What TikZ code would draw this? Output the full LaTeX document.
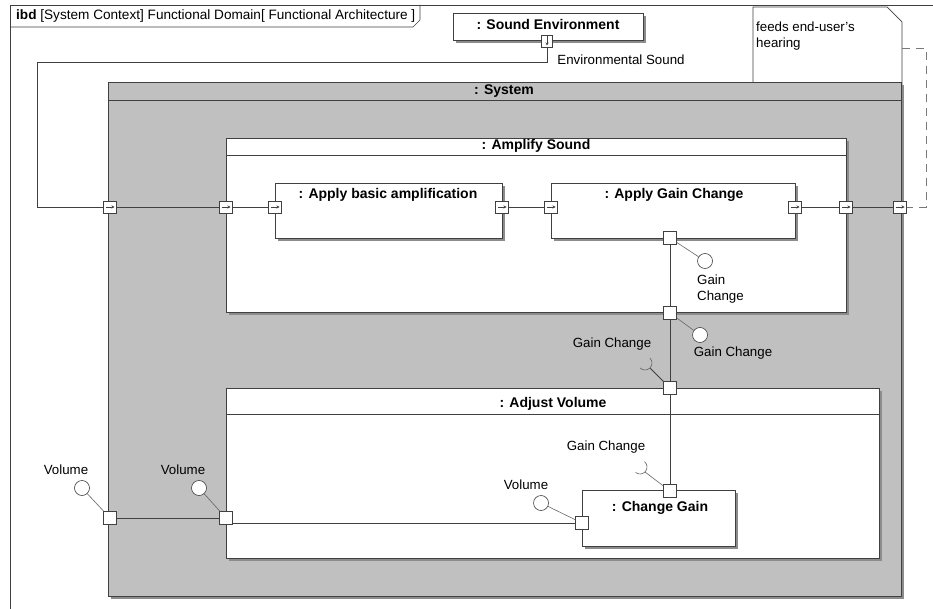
\documentclass[tikz,border=0pt]{standalone}
\usepackage{fontspec}
\setmainfont{Liberation Sans}
\usetikzlibrary{arrows.meta,shadows}
\definecolor{linec}{HTML}{404040}
\definecolor{sysgray}{HTML}{C0C0C0}
\definecolor{shadowc}{HTML}{8C8C8C}
\tikzset{
  txt/.style={font=\fontsize{13.3}{16}\selectfont, inner sep=0, text=black},
  btxt/.style={font=\fontsize{14}{16}\selectfont\bfseries, inner sep=0, text=black},
  box/.style={draw=linec, fill=white, line width=0.7pt, inner sep=0, anchor=north west,
    drop shadow={shadow xshift=2.5pt, shadow yshift=-2.5pt, fill=shadowc, opacity=1}},
  sysbox/.style={box, fill=sysgray},
  hdr/.style={draw=linec, line width=0.7pt},
  conn/.style={draw=linec, line width=0.6pt},
  flowport/.style={draw=linec, fill=white, minimum width=13pt, minimum height=12pt, inner sep=0, line width=0.6pt},
  sqport/.style={draw=linec, fill=white, minimum size=13pt, inner sep=0, line width=0.6pt},
  lolly/.style={circle, draw=linec, fill=white, minimum size=15pt, inner sep=0, line width=0.6pt},
  ball/.style={draw=linec!80, line width=0.6pt},
  portarrow/.style={draw=linec, line width=0.5pt, -{Stealth[length=3pt,width=3pt]}},
  notebox/.style={draw=linec, fill=white, line width=0.7pt},
}
\begin{document}
\begin{tikzpicture}[x=1pt,y=-1pt]
\useasboundingbox (0,0) rectangle (933,609);
\fill[white] (0,0) rectangle (933,609);
\clip (0,0) rectangle (933,609);

% frame
\draw[linec, line width=0.7pt] (10,620) -- (10,5) -- (940,5);
\draw[linec, line width=0.7pt] (10,27) -- (413,27) -- (420,20) -- (420,5);
\node[txt, anchor=west, font=\fontsize{13.6}{16}\selectfont] (title) at (16,16) {\textbf{ibd} [System Context] Functional Domain[ Functional Architecture ]};

% Sound environment
\node[box, minimum width=190pt, minimum height=27pt] (env) at (453,13) {};
\node[btxt] (envT) at (548,25) {: Sound Environment};

% Note
\coordinate (n1) at (753,7);
\coordinate (n2) at (887,7);
\coordinate (n3) at (902,22);
\coordinate (n4) at (902,97);
\coordinate (n5) at (753,97);
\draw[notebox] (n1) -- (n2) -- (n3) -- (n4) -- (n5) -- cycle;
\node[txt, anchor=north west, align=left] (noteT) at (756,22) {feeds end-user's\\hearing};

% System
\node[sysbox, minimum width=793pt, minimum height=514pt] (sys) at (108,82) {};
\draw[hdr] ([yshift=-18pt]sys.north west) -- ([yshift=-18pt]sys.north east);
\node[btxt] (sysT) at (504,91) {: System};

% Amplify sound
\node[box, minimum width=620pt, minimum height=174pt] (amp) at (226,138) {};
\draw[hdr] ([yshift=-17pt]amp.north west) -- ([yshift=-17pt]amp.north east);
\node[btxt] (ampT) at (536,146) {: Amplify Sound};

\node[box, minimum width=227pt, minimum height=55pt] (bas) at (275,183) {};
\node[btxt] (basT) at (388,195) {: Apply basic amplification};
\node[box, minimum width=244pt, minimum height=55pt] (gan) at (551,183) {};
\node[btxt] (ganT) at (674,195) {: Apply Gain Change};

% Adjust volume
\node[box, minimum width=653pt, minimum height=170pt] (adj) at (226,388) {};
\draw[hdr] ([yshift=-26pt]adj.north west) -- ([yshift=-26pt]adj.north east);
\node[btxt] (adjT) at (553,404) {: Adjust Volume};

\node[box, minimum width=153pt, minimum height=56pt] (cg) at (582,490) {};
\node[btxt] (cgT) at (660,508) {: Change Gain};

% flow ports
\node[flowport] (sysL) at (110,207) {};
\node[flowport] (ampL) at (226,207) {};
\node[flowport] (basL) at (275,207) {};
\node[flowport] (basR) at (502,207) {};
\node[flowport] (ganL) at (551,207) {};
\node[flowport] (ganR) at (795,207) {};
\node[flowport] (ampR) at (846,207) {};
\node[flowport] (sysR) at (900,207) {};
\foreach \p in {sysL,ampL,basL,basR,ganL,ganR,ampR,sysR}
  \draw[portarrow] ([xshift=-4.5pt]\p.center) -- ([xshift=4.5pt]\p.center);
\node[flowport, minimum width=11pt] (envP) at (547,41) {};
\draw[portarrow] ([yshift=4.5pt]envP.center) -- ([yshift=-4.5pt]envP.center);

% square ports
\node[sqport] (ganB) at (670,238) {};
\node[sqport] (ampB) at (670,313) {};
\node[sqport] (adjTp) at (670,388) {};
\node[sqport] (cgTp) at (670,491) {};
\node[sqport] (cgL) at (582,523) {};
\node[sqport] (sysB) at (110,518) {};
\node[sqport] (adjL) at (226,518) {};

% connectors
\coordinate (e1) at (547,62);
\coordinate (e2) at (37,62);
\coordinate (e3) at (37,207);
\draw[conn] (envP.south) -- (e1) -- (e2) -- (e3) -- (sysL.west);
\draw[conn] (sysL) -- (ampL);
\draw[conn] (ampL) -- (basL);
\draw[conn] (basR) -- (ganL);
\draw[conn] (ganR) -- (ampR);
\draw[conn] (ampR) -- (sysR);
\coordinate (d0) at (902,48);
\coordinate (d1) at (926,48);
\coordinate (d2) at (926,207);
\draw[conn, dashed, dash pattern=on 8pt off 6pt, draw=linec!70] (d0) -- (d1) -- (d2) -- (sysR.east);
\draw[conn] (ganB) -- (ampB);
\draw[conn] (ampB) -- (adjTp);
\draw[conn] (adjTp) -- (cgTp);
\draw[conn] (sysB) -- (adjL);
\draw[conn] ([yshift=-5pt]adjL.east) -- (cgL.west);

% provided interfaces (lollipops)
\node[lolly] (ganBc) at (705,261) {};
\node[lolly] (ampBc) at (700,335) {};
\node[lolly] (sysBc) at (82,488) {};
\node[lolly] (adjLc) at (199,488) {};
\node[lolly] (cgLc) at (541,503) {};
\draw[ball] (ganB) -- (ganBc);
\draw[ball] (ampB) -- (ampBc);
\draw[ball] (sysB) -- (sysBc);
\draw[ball] (adjL) -- (adjLc);
\draw[ball] (cgL) -- (cgLc);

% required interfaces (sockets)
\coordinate (s1c) at (645,363);
\coordinate (s1e) at (650,368);
\draw[conn, line width=0.9pt] (adjTp) -- (s1e);
\draw[ball] ([shift={(-45:7)}]s1c) arc[start angle=-45, end angle=135, radius=7];
\coordinate (s2c) at (640,467);
\coordinate (s2e) at (645,472);
\draw[ball] (cgTp) -- (s2e);
\draw[ball] ([shift={(-50:7)}]s2c) arc[start angle=-50, end angle=130, radius=7];

% labels
\node[txt] (envL) at (621,60) {Environmental Sound};
\node[txt, anchor=north west, align=left] (ganBL) at (697,275) {Gain\\Change};
\node[txt] (ampBL) at (733,353) {Gain Change};
\node[txt] (adjTL) at (612,344) {Gain Change};
\node[txt] (cgTL) at (606,447) {Gain Change};
\node[txt] (cgLL) at (526,485) {Volume};
\node[txt] (sysBL) at (66,470) {Volume};
\node[txt] (adjLL) at (183,470) {Volume};
\end{tikzpicture}
\end{document}
